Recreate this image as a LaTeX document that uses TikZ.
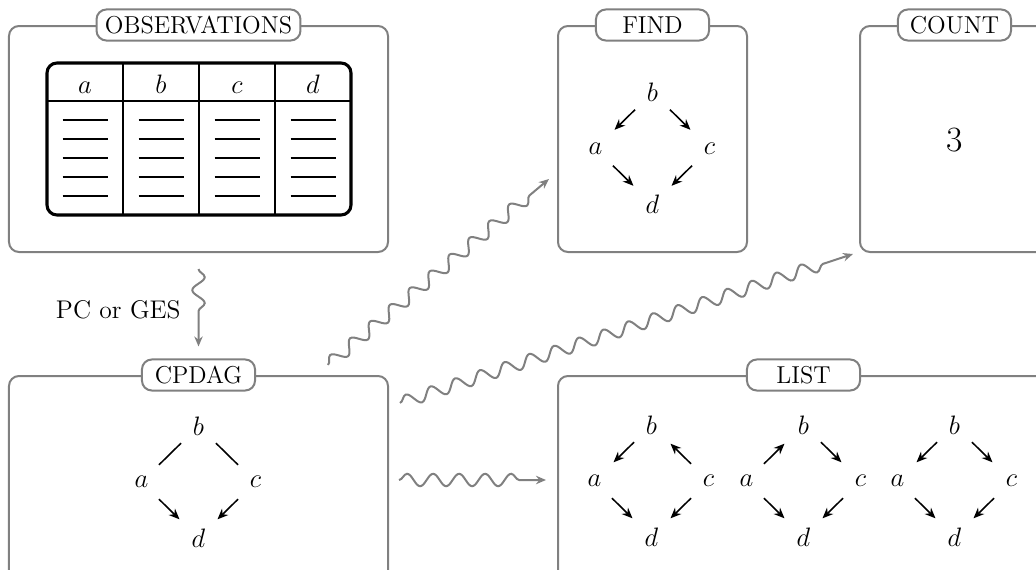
\documentclass[tikz,border=0pt]{standalone}
\usetikzlibrary{decorations.pathmorphing, arrows.meta, fit, calc}

% one small causal graph: b on top, a and c at the sides, d at the bottom
\newcommand{\dagskel}[3]{%
  \node[v] (#1b) at (#2,#3) {$b$};
  \node[v] (#1a) at ({#2-57},{#3+56}) {$a$};
  \node[v] (#1c) at ({#2+57},{#3+56}) {$c$};
  \node[v] (#1d) at (#2,{#3+112}) {$d$};
}

\begin{document}
\begin{tikzpicture}[x=0.45pt, y=-0.45pt,
  panel/.style={draw=gray, line width=0.9pt, rounded corners=4.5pt, inner sep=0pt},
  tag/.style={draw=gray, fill=white, line width=0.9pt, rounded corners=4.5pt,
    minimum width=50.9pt, minimum height=14pt, inner xsep=3.8pt, inner ysep=0pt,
    font=\fontsize{11}{13}\selectfont},
  v/.style={circle, inner sep=0pt, minimum size=21.6pt, font=\fontsize{12}{14}\selectfont},
  e/.style={line width=0.7pt, -{Stealth[length=4.8pt, width=4pt]}, shorten >=1pt},
  u/.style={line width=0.7pt},
  wave/.style={draw=gray, line width=0.9pt, -{Stealth[length=4.5pt, width=3.8pt]},
    decorate, decoration={snake, amplitude=2.8pt, segment length=11.7pt, post length=11pt}},
]
\clip (0,0) rectangle (1036,570);

% panels
\node[panel, fit={(9,26) (388,252)}] (obs) {};
\node[panel, fit={(558,26) (747,252)}] (find) {};
\node[panel, fit={(860,26) (1049,252)}] (count) {};
\node[panel, fit={(9,376) (388,602)}] (cpdag) {};
\node[panel, fit={(558,376) (1049,602)}] (list) {};

% panel titles
\node[tag] (obstag) at (obs.north) {OBSERVATIONS};
\node[tag] (findtag) at (find.north) {FIND};
\node[tag] (counttag) at (count.north) {COUNT};
\node[tag] (cpdagtag) at (cpdag.north) {CPDAG};
\node[tag] (listtag) at (list.north) {LIST};

% data table
\draw[line width=1.4pt, rounded corners=4.5pt] (47,63) rectangle (351,215);
\foreach \x in {123,199,275} \draw[line width=0.9pt] (\x,63) -- (\x,215);
\draw[line width=0.9pt] (47,101) -- (351,101);
\foreach \x/\l in {85/a,161/b,237/c,313/d}
  \node[anchor=base, inner sep=0pt, font=\fontsize{12}{14}\selectfont] (h\l) at (\x,93) {$\l$};
\foreach \x in {85,161,237,313}
  \foreach \y in {120,139,158,177,196}
    \draw[line width=0.8pt] (\x-22.5,\y) -- (\x+22.5,\y);

% FIND
\dagskel{f}{652.5}{92.5}
\draw[e] (fb) -- (fa);
\draw[e] (fb) -- (fc);
\draw[e] (fa) -- (fd);
\draw[e] (fc) -- (fd);

% COUNT
\node[font=\fontsize{16}{19}\selectfont] (num) at (954.5,140) {3};

% CPDAG
\dagskel{p}{198.5}{426}
\draw[u] (pb) -- (pa);
\draw[u] (pb) -- (pc);
\draw[e] (pa) -- (pd);
\draw[e] (pc) -- (pd);

% LIST
\dagskel{x}{651.5}{425}
\draw[e] (xb) -- (xa);
\draw[e] (xc) -- (xb);
\draw[e] (xa) -- (xd);
\draw[e] (xc) -- (xd);

\dagskel{y}{803.5}{425}
\draw[e] (ya) -- (yb);
\draw[e] (yb) -- (yc);
\draw[e] (ya) -- (yd);
\draw[e] (yc) -- (yd);

\dagskel{z}{954.5}{425}
\draw[e] (zb) -- (za);
\draw[e] (zb) -- (zc);
\draw[e] (za) -- (zd);
\draw[e] (zc) -- (zd);

% wavy connectors
\coordinate (s0) at ($(obs.south)+(0,16)$);
\coordinate (t0) at ($(cpdagtag.north)+(0,-12)$);
\coordinate (s1) at (328,365);
\coordinate (t1) at (549,179);
\coordinate (s2) at (400,403);
\coordinate (t2) at (853,254);
\coordinate (s3) at (399,480);
\coordinate (t3) at (546,480);

\draw[wave] (s0) -- (t0);
\draw[wave] (s1) -- (t1);
\draw[wave] (s2) -- (t2);
\draw[wave] (s3) -- (t3);

\node[anchor=east, inner sep=0pt, font=\fontsize{11.5}{13}\selectfont] (alg) at (181,310) {PC or GES};
\end{tikzpicture}
\end{document}
